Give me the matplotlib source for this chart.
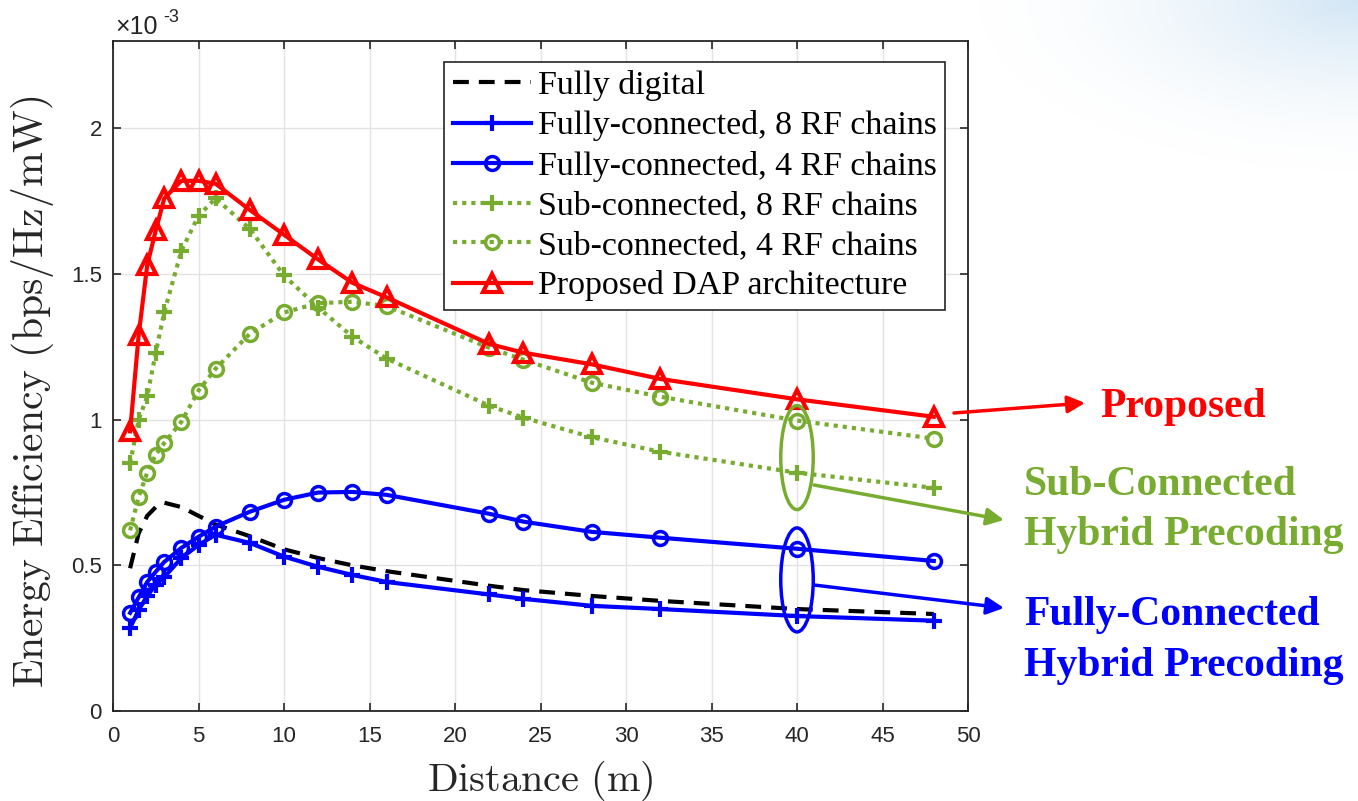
import numpy as np
import matplotlib
matplotlib.use("Agg")
import matplotlib.pyplot as plt
from matplotlib.patches import Ellipse, FancyArrowPatch
from matplotlib.ticker import FuncFormatter

# distance grid (m)
dist = [1, 1.5, 2, 2.5, 3, 4, 5, 6, 8, 10, 12, 14, 16, 22, 24, 28, 32, 40, 48]

# energy efficiency, units of 1e-3 bps/Hz/mW
ee_digital = [0.49, 0.61, 0.67, 0.70, 0.715, 0.70, 0.67, 0.64, 0.60, 0.555,
              0.525, 0.50, 0.48, 0.43, 0.415, 0.395, 0.378, 0.35, 0.333]
ee_fc8 = [0.285, 0.347, 0.395, 0.433, 0.46, 0.525, 0.57, 0.605, 0.577, 0.53,
          0.495, 0.467, 0.443, 0.40, 0.385, 0.361, 0.35, 0.326, 0.31]
ee_fc4 = [0.337, 0.39, 0.443, 0.478, 0.512, 0.56, 0.598, 0.633, 0.684, 0.725,
          0.75, 0.752, 0.742, 0.677, 0.65, 0.615, 0.595, 0.557, 0.515]
ee_sc8 = [0.85, 1.0, 1.08, 1.23, 1.37, 1.58, 1.70, 1.76, 1.655, 1.495,
          1.385, 1.285, 1.21, 1.048, 1.007, 0.94, 0.89, 0.818, 0.766]
ee_sc4 = [0.62, 0.735, 0.818, 0.88, 0.92, 0.993, 1.10, 1.175, 1.295, 1.368,
          1.40, 1.405, 1.39, 1.247, 1.206, 1.127, 1.079, 0.997, 0.935]
ee_dap = [0.96, 1.29, 1.53, 1.65, 1.76, 1.82, 1.82, 1.81, 1.72, 1.635,
          1.55, 1.47, 1.42, 1.26, 1.23, 1.19, 1.14, 1.07, 1.01]

labels = ['Fully digital', 'Fully-connected, 8 RF chains', 'Fully-connected, 4 RF chains',
          'Sub-connected, 8 RF chains', 'Sub-connected, 4 RF chains', 'Proposed DAP architecture']

scale = 1e-3
W, H = 1358, 801
GREEN = '#77ac30'
DARK = '#262626'

plt.rcParams['mathtext.fontset'] = 'cm'

def fx(px):
    return px / W

def fy(py):
    return 1 - py / H

fig = plt.figure(figsize=(W / 100, H / 100), dpi=100)
fig.patch.set_facecolor('white')

# faint blue wash in the upper right corner
bg = fig.add_axes([0, 0, 1, 1], zorder=-10)
bg.axis('off')
xx, yy = np.meshgrid(np.arange(W), np.arange(H))
d = np.sqrt(((W - xx) / 400.0) ** 2 + (yy / 180.0) ** 2)
alpha = np.clip(1 - d, 0, 1) ** 1.8 * 0.85
img = np.zeros((H, W, 4))
img[..., 0] = 202 / 255
img[..., 1] = 225 / 255
img[..., 2] = 243 / 255
img[..., 3] = alpha
bg.imshow(img, extent=[0, W, H, 0], aspect='auto')
bg.set_xlim(0, W)
bg.set_ylim(H, 0)

ax = fig.add_axes([fx(113), fy(711), 855 / W, 670 / H])
ax.set_facecolor('white')

x = np.array(dist)
ax.plot(x, np.array(ee_digital) * scale, color='black', lw=3, dashes=(3.8, 2.4),
        label=labels[0])
ax.plot(x, np.array(ee_fc8) * scale, color='blue', lw=3, marker='+', ms=12, mew=3,
        label=labels[1])
ax.plot(x, np.array(ee_fc4) * scale, color='blue', lw=3, marker='o', ms=10, mew=2.5,
        mfc='none', label=labels[2])
ax.plot(x, np.array(ee_sc8) * scale, color=GREEN, lw=3, dashes=(1, 1.2), marker='+',
        ms=12, mew=3, label=labels[3])
ax.plot(x, np.array(ee_sc4) * scale, color=GREEN, lw=3, dashes=(1, 1.2), marker='o',
        ms=10, mew=2.5, mfc='none', label=labels[4])
ax.plot(x, np.array(ee_dap) * scale, color='red', lw=3, marker='^', ms=13, mew=3,
        mfc='none', label=labels[5])

ax.set_xlim(0, 50)
ax.set_ylim(0, 2.3 * scale)
ax.set_xticks(np.arange(0, 51, 5))
ax.set_yticks(np.arange(0, 2.01, 0.5) * scale)
ax.yaxis.set_major_formatter(FuncFormatter(lambda v, p: '%g' % round(v / scale, 3)))
ax.grid(True, color='#e3e3e3', lw=1)
ax.set_axisbelow(True)
ax.tick_params(direction='in', length=6, width=1.2, colors=DARK, top=True, right=True,
               labelsize=16, pad=8)
ax.tick_params(axis='x', pad=11)
for lab in ax.get_xticklabels() + ax.get_yticklabels():
    lab.set_family('Liberation Sans')
for sp in ax.spines.values():
    sp.set_color(DARK)
    sp.set_linewidth(1.3)

leg = ax.legend(loc='upper right', bbox_to_anchor=(0.973, 0.969), borderaxespad=0,
                prop={'family': 'Liberation Serif', 'size': 24.4}, handlelength=2.3,
                handletextpad=0.2, labelspacing=0.27, borderpad=0.25, fancybox=False,
                framealpha=1, edgecolor=DARK)
leg.get_frame().set_linewidth(1.2)

# ellipses marking the sub-connected and fully-connected points at 40 m
ax.add_patch(Ellipse((40, 0.87 * scale), 1.9, 0.357 * scale, fill=False,
                     edgecolor=GREEN, lw=2.5, zorder=5))
ax.add_patch(Ellipse((40, 0.45 * scale), 1.9, 0.357 * scale, fill=False,
                     edgecolor='blue', lw=2.5, zorder=5))

# multiplier label
fig.text(fx(115), fy(34), '\u00d710', family='Liberation Sans', fontsize=18,
         color=DARK, va='baseline', ha='left')
fig.text(fx(163), fy(22), '-3', family='Liberation Sans', fontsize=13,
         color=DARK, va='baseline', ha='left')

# axis labels
fig.text(fx(540), fy(791), r'$\mathrm{Distance\ (m)}$', fontsize=29, color=DARK,
         ha='center', va='baseline')
fig.text(fx(33), fy(392), r'$\mathrm{Energy\ Efficiency\ (bps/Hz/mW)}$', fontsize=30,
         color=DARK, rotation=90, ha='center', va='center')

# arrows pointing to the callout text
arrows = [((954, 413), (1085, 403), 'red'),
          ((814, 485), (1004, 520), GREEN),
          ((814, 585), (1004, 608), 'blue')]
for (x0, y0), (x1, y1), c in arrows:
    fig.add_artist(FancyArrowPatch((fx(x0), fy(y0)), (fx(x1), fy(y1)),
                                   transform=fig.transFigure, arrowstyle='-|>',
                                   mutation_scale=26, lw=2.5, color=c,
                                   shrinkA=0, shrinkB=0))

callout = dict(family='Liberation Serif', weight='bold', fontsize=30, va='baseline',
               ha='left')
fig.text(fx(1100), fy(417), 'Proposed', color='red', **callout)
fig.text(fx(1024), fy(495), 'Sub-Connected', color=GREEN, **callout)
fig.text(fx(1024), fy(545), 'Hybrid Precoding', color=GREEN, **callout)
fig.text(fx(1024), fy(625), 'Fully-Connected', color='blue', **callout)
fig.text(fx(1024), fy(676), 'Hybrid Precoding', color='blue', **callout)

fig.savefig('out.png', dpi=100)
